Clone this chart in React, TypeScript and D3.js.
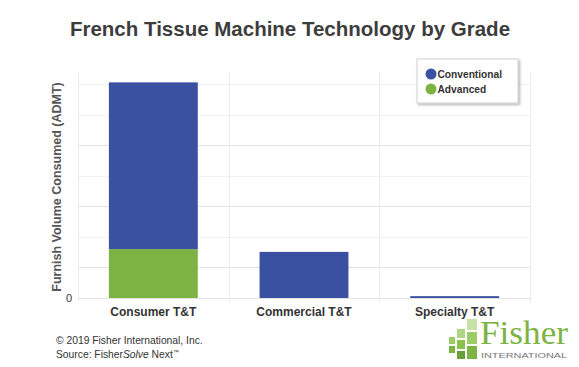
import { useEffect, useRef } from "react";
import * as d3 from "d3";

const categories = ["Consumer T&T", "Commercial T&T", "Specialty T&T"];
const seriesNames = ["Advanced", "Conventional"];
const advanced = [16.0, 0, 0];
const conventional = [54.6, 15.1, 0.6];
const gridTicks = [10, 20, 30, 40, 50, 60, 70];
const majorTicks = [10, 30, 50];

const colors: Record<string, string> = {
  Conventional: "#3a50a1",
  Advanced: "#7cb342",
};

export default function App() {
  const svgRef = useRef<SVGSVGElement | null>(null);

  useEffect(() => {
    if (!svgRef.current) return;
    const svg = d3.select(svgRef.current);
    svg.selectAll("*").remove();

    const width = 579;
    const height = 367;
    const font = "'Liberation Sans', Arial, sans-serif";
    const plot = { left: 78, right: 530, top: 72, bottom: 298 };

    svg.attr("width", width).attr("height", height).attr("viewBox", `0 0 ${width} ${height}`);
    svg.append("rect").attr("width", width).attr("height", height).attr("fill", "#fff");

    const defs = svg.append("defs");
    const shadow = defs.append("filter").attr("id", "legendShadow").attr("x", "-10%").attr("y", "-10%").attr("width", "130%").attr("height", "140%");
    shadow.append("feDropShadow").attr("dx", 1.5).attr("dy", 1.5).attr("stdDeviation", 1.2).attr("flood-color", "#000").attr("flood-opacity", 0.3);

    const x = d3.scaleBand<string>().domain(categories).range([plot.left, plot.right]).paddingInner(0.41).paddingOuter(0.205);
    const y = d3.scaleLinear().domain([0, 74]).range([plot.bottom, plot.top]);

    // title
    svg
      .append("text")
      .attr("x", 290)
      .attr("y", 36)
      .attr("text-anchor", "middle")
      .attr("fill", "#3d3d3d")
      .style("font-family", font)
      .style("font-size", "20.5px")
      .style("font-weight", "700")
      .text("French Tissue Machine Technology by Grade");

    // horizontal gridlines
    svg
      .append("g")
      .selectAll("line")
      .data(gridTicks)
      .enter()
      .append("line")
      .attr("x1", plot.left)
      .attr("x2", plot.right)
      .attr("y1", (d) => Math.round(y(d)) + 0.5)
      .attr("y2", (d) => Math.round(y(d)) + 0.5)
      .attr("stroke", (d) => (majorTicks.includes(d) ? "#e2e2e2" : "#eeeeee"))
      .attr("stroke-dasharray", (d) => (majorTicks.includes(d) ? null : "3 1"));

    // vertical category separators
    const step = x.step();
    const bounds = d3.range(categories.length + 1).map((i) => plot.left + i * step);
    svg
      .append("g")
      .selectAll("line")
      .data(bounds)
      .enter()
      .append("line")
      .attr("x1", (d) => Math.round(d) + 0.5)
      .attr("x2", (d) => Math.round(d) + 0.5)
      .attr("y1", plot.top)
      .attr("y2", plot.bottom + 4)
      .attr("stroke", "#ebebeb");

    // baseline
    svg
      .append("line")
      .attr("x1", plot.left)
      .attr("x2", plot.right)
      .attr("y1", y(0) + 0.5)
      .attr("y2", y(0) + 0.5)
      .attr("stroke", "#e4e4e4");

    // stacked bars
    const rows = categories.map((c, i) => ({ category: c, Advanced: advanced[i], Conventional: conventional[i] }));
    const stacked = d3.stack<(typeof rows)[number]>().keys(seriesNames)(rows);

    svg
      .append("g")
      .selectAll("g")
      .data(stacked)
      .enter()
      .append("g")
      .attr("fill", (s) => colors[s.key])
      .selectAll("rect")
      .data((s) => s.filter((d) => d[1] - d[0] > 0))
      .enter()
      .append("rect")
      .attr("x", (d) => x(d.data.category) ?? 0)
      .attr("width", x.bandwidth())
      .attr("y", (d) => y(d[1]))
      .attr("height", (d) => y(d[0]) - y(d[1]));

    // y axis label "0"
    svg
      .append("text")
      .attr("x", 72)
      .attr("y", y(0) + 4)
      .attr("text-anchor", "end")
      .attr("fill", "#333")
      .style("font-family", font)
      .style("font-size", "11px")
      .text("0");

    // y axis title
    svg
      .append("text")
      .attr("transform", `translate(61,${(plot.top + plot.bottom) / 2 + 2}) rotate(-90)`)
      .attr("text-anchor", "middle")
      .attr("fill", "#555")
      .style("font-family", font)
      .style("font-size", "12.5px")
      .style("font-weight", "700")
      .text("Furnish Volume Consumed (ADMT)");

    // category labels
    svg
      .append("g")
      .selectAll("text")
      .data(categories)
      .enter()
      .append("text")
      .attr("x", (d) => (x(d) ?? 0) + x.bandwidth() / 2)
      .attr("y", 316)
      .attr("text-anchor", "middle")
      .attr("fill", "#333")
      .style("font-family", font)
      .style("font-size", "12px")
      .style("font-weight", "700")
      .text((d) => d);

    // legend
    const legend = svg.append("g").attr("transform", "translate(417,59)");
    legend
      .append("rect")
      .attr("width", 101)
      .attr("height", 44)
      .attr("fill", "#fff")
      .attr("stroke", "#cfcfcf")
      .attr("filter", "url(#legendShadow)");
    ["Conventional", "Advanced"].forEach((name, i) => {
      const row = legend.append("g").attr("transform", `translate(0,${15 + i * 15})`);
      row.append("circle").attr("cx", 14).attr("cy", 0).attr("r", 5.5).attr("fill", colors[name]);
      row
        .append("text")
        .attr("x", 20.5)
        .attr("y", 3.7)
        .attr("fill", "#333")
        .style("font-family", font)
        .style("font-size", "10.2px")
        .style("font-weight", "700")
        .text(name);
    });

    // footer
    const foot = svg.append("g").style("font-family", font).style("font-size", "10.3px").attr("fill", "#333");
    foot.append("text").attr("x", 56).attr("y", 344).text("© 2019 Fisher International, Inc.");
    const src = foot.append("text").attr("x", 56).attr("y", 358);
    src.append("tspan").text("Source: Fisher");
    src.append("tspan").style("font-style", "italic").text("Solve");
    src.append("tspan").text(" Next");
    src.append("tspan").attr("dy", -4).style("font-size", "6px").text("™");

    // logo
    const logo = svg.append("g").attr("transform", "translate(0,-2)");
    const tiles = [
      [449, 339, 6, 7, "#9ccc65"],
      [449, 348, 6, 7, "#7cb342"],
      [457, 331, 8, 9, "#aed581"],
      [457, 342, 8, 9, "#8bc34a"],
      [457, 353, 8, 8, "#689f38"],
      [467, 321, 10, 11, "#c5e1a5"],
      [467, 334, 10, 12, "#9ccc65"],
      [467, 348, 10, 13, "#7cb342"],
    ] as const;
    tiles.forEach(([tx, ty, tw, th, c]) => {
      logo.append("rect").attr("x", tx).attr("y", ty).attr("width", tw).attr("height", th).attr("fill", c);
    });
    logo
      .append("text")
      .attr("x", 480)
      .attr("y", 346)
      .attr("fill", "#7cb342")
      .style("font-family", "'Liberation Serif', 'Times New Roman', serif")
      .style("font-size", "33px")
      .attr("textLength", 88)
      .attr("lengthAdjust", "spacingAndGlyphs")
      .text("Fisher");
    logo
      .append("text")
      .attr("x", 481)
      .attr("y", 360)
      .attr("fill", "#777")
      .style("font-family", font)
      .style("font-size", "8px")
      .attr("textLength", 86)
      .attr("lengthAdjust", "spacingAndGlyphs")
      .text("INTERNATIONAL");
  }, []);

  return (
    <div style={{ margin: -8 }}>
      <svg ref={svgRef} style={{ display: "block" }} />
    </div>
  );
}
